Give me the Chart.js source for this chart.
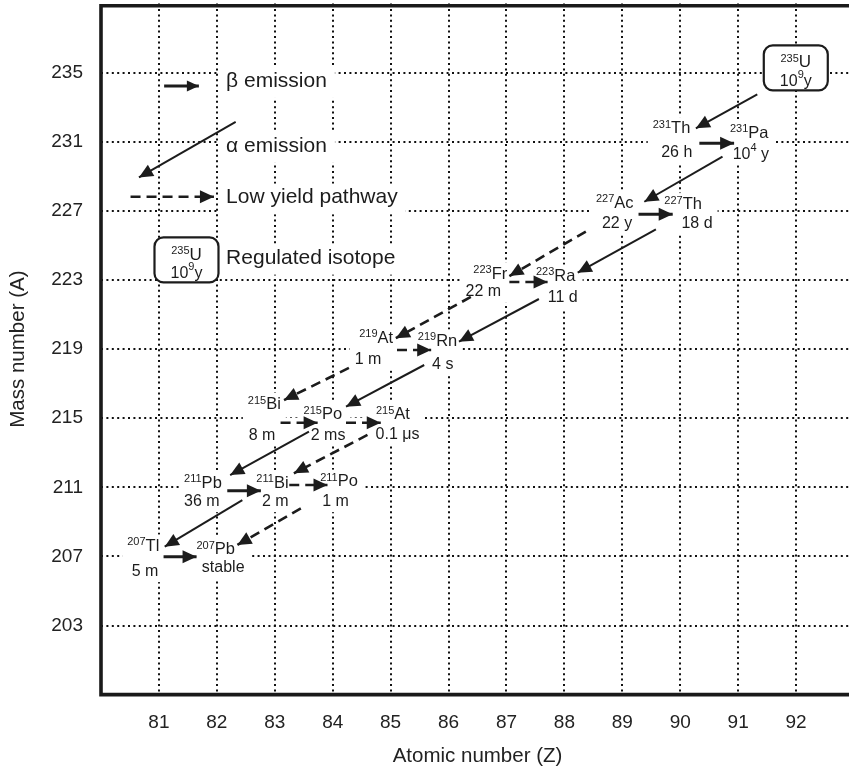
<!DOCTYPE html>
<html>
<head>
<meta charset="utf-8">
<title>235U decay chain</title>
<script src="https://cdn.jsdelivr.net/npm/chart.js@4.4.1/dist/chart.umd.min.js"></script>
<style>
    html, body { margin: 0; padding: 0; background: #fff; overflow: hidden; }
</style>
</head>
<body>
<canvas id="decayChart" width="854" height="773"></canvas>
<script>
// Axis ticks
const zTicks = [81, 82, 83, 84, 85, 86, 87, 88, 89, 90, 91, 92];
const aTicks = [203, 207, 211, 215, 219, 223, 227, 231, 235];

// Isotopes of the chain (label centre in Z / A units)
const isoMass   = ['231', '231', '227', '227', '223', '223', '219', '219', '215', '215', '215', '211', '211', '211', '207', '207'];
const isoSymbol = ['Th', 'Pa', 'Ac', 'Th', 'Fr', 'Ra', 'At', 'Rn', 'Bi', 'Po', 'At', 'Pb', 'Bi', 'Po', 'Tl', 'Pb'];
const isoLabelZ = [89.85, 91.19, 88.87, 90.05, 86.72, 87.85, 84.75, 85.81, 82.82, 83.83, 85.04, 81.76, 82.96, 84.11, 80.73, 81.98];
const isoLabelA = [231.83, 231.58, 227.53, 227.43, 223.41, 223.29, 219.72, 219.53, 215.86, 215.28, 215.28, 211.32, 211.32, 211.42, 207.66, 207.47];
const halfLife  = ['26 h', '10^4 y', '22 y', '18 d', '22 m', '11 d', '1 m', '4 s', '8 m', '2 ms', '0.1 μs', '36 m', '2 m', '1 m', '5 m', 'stable'];
const halfZ     = [89.94, 91.22, 88.91, 90.29, 86.60, 87.97, 84.61, 85.90, 82.78, 83.92, 85.12, 81.74, 83.01, 84.05, 80.76, 82.11];
const halfA     = [230.43, 230.35, 226.37, 226.37, 222.38, 222.03, 218.47, 218.19, 214.09, 214.09, 214.13, 210.26, 210.26, 210.26, 206.21, 206.40];

// Decay arrows: a = alpha, b = beta; dashed = low yield pathway
const arrowKind   = ['a', 'b', 'a', 'b', 'a', 'a', 'b', 'a', 'a', 'b', 'a', 'a', 'b', 'b', 'a', 'a', 'b', 'b', 'a', 'a', 'b'];
const arrowDashed = [false, false, false, false, false, true, true, false, true, true, false, true, true, true, false, true, false, true, false, true, false];
const arrowFromZ  = [91.33, 90.33, 90.73, 89.28, 89.58, 88.37, 87.05, 87.56, 86.385, 85.11, 85.58, 84.28, 83.10, 84.23, 83.59, 84.60, 82.18, 83.25, 82.44, 83.45, 81.08];
const arrowFromA  = [233.75, 230.91, 230.14, 226.80, 225.93, 225.80, 222.88, 221.90, 222.02, 218.95, 218.08, 217.91, 214.74, 214.74, 214.22, 214.03, 210.80, 211.13, 210.26, 209.78, 206.98];
const arrowToZ    = [90.27, 90.93, 89.38, 89.87, 88.23, 87.05, 87.71, 86.18, 85.09, 85.70, 84.23, 83.16, 83.74, 84.83, 82.23, 83.33, 82.76, 83.91, 81.10, 82.355, 81.65];
const arrowToA    = [231.78, 230.91, 227.53, 226.80, 223.42, 223.23, 222.88, 219.43, 219.63, 218.95, 215.67, 216.05, 214.74, 214.74, 211.71, 211.81, 210.80, 211.13, 207.56, 207.66, 206.98];

// Regulated isotope boxes (the legend sample and 235U)
const boxZ = [81.476, 91.995];
const boxA = [224.16, 235.28];

// Legend
const legendText  = ['β emission', 'α emission', 'Low yield pathway', 'Regulated isotope'];
const legendTextZ = 82.16;
const legendTextA = [234.52, 230.77, 227.79, 224.29];
const legendArrowKind   = ['b', 'a', 'a'];
const legendArrowDashed = [false, false, true];
const legendFromZ = [81.09, 82.325, 80.51];
const legendFromA = [234.23, 232.16, 227.82];
const legendToZ   = [81.69, 80.655, 81.95];
const legendToA   = [234.23, 228.94, 227.82];

const FONT = "'Liberation Sans', Arial, Helvetica, sans-serif";
const INK = '#1c1c1c';
const LEGEND_SIZE = 21;

// '10^4 y' -> [['10', false], ['4', true], [' y', false]]
function splitSup(str) {
    const out = [];
    const re = /\^(\d+)/g;
    let last = 0, m;
    while ((m = re.exec(str)) !== null) {
        if (m.index > last) out.push([str.slice(last, m.index), false]);
        out.push([m[1], true]);
        last = re.lastIndex;
    }
    if (last < str.length) out.push([str.slice(last), false]);
    return out;
}

function richWidths(ctx, parts, size, supSize) {
    return parts.map(p => {
        ctx.font = (p[1] ? supSize : size) + 'px ' + FONT;
        return ctx.measureText(p[0]).width;
    });
}

// cy = middle of the capitals of the normal sized text
function drawRich(ctx, parts, cx, cy, size, supSize, supRaise) {
    const base = cy + 0.358 * size;
    const supBase = base - 0.716 * size - supRaise + 0.716 * supSize;
    const widths = richWidths(ctx, parts, size, supSize);
    const total = widths.reduce((s, w) => s + w, 0);
    let x = cx - total / 2;
    ctx.textAlign = 'left';
    ctx.textBaseline = 'alphabetic';
    parts.forEach((p, i) => {
        ctx.font = (p[1] ? supSize : size) + 'px ' + FONT;
        ctx.fillText(p[0], x, p[1] ? supBase : base);
        x += widths[i];
    });
}

function richBox(ctx, parts, cx, cy, size, supSize, supRaise) {
    const total = richWidths(ctx, parts, size, supSize).reduce((s, w) => s + w, 0);
    const hasSup = parts.some(p => p[1]);
    const capTop = cy - 0.358 * size;
    return {
        x0: cx - total / 2,
        x1: cx + total / 2,
        y0: hasSup ? capTop - supRaise : capTop,
        y1: cy + 0.358 * size + 0.21 * size
    };
}

function headPath(ctx, x1, y1, x2, y2, len, half) {
    const ang = Math.atan2(y2 - y1, x2 - x1);
    const c = Math.cos(ang), s = Math.sin(ang);
    ctx.beginPath();
    ctx.moveTo(x2, y2);
    ctx.lineTo(x2 - len * c + half * s, y2 - len * s - half * c);
    ctx.lineTo(x2 - len * c - half * s, y2 - len * s + half * c);
    ctx.closePath();
}

function roundBoxPath(ctx, x, y, w, h, r) {
    ctx.beginPath();
    ctx.moveTo(x + r, y);
    ctx.arcTo(x + w, y, x + w, y + h, r);
    ctx.arcTo(x + w, y + h, x, y + h, r);
    ctx.arcTo(x, y + h, x, y, r);
    ctx.arcTo(x, y, x + w, y, r);
    ctx.closePath();
}

function lineWidthFor(kind, dashed) {
    if (dashed) return 2.6;
    return kind === 'b' ? 3 : 2;
}

// no extra label padding: the plot area is fixed by the frame
function clearPadding(s) {
    s.paddingTop = 0;
    s.paddingBottom = 0;
    s.paddingLeft = 0;
    s.paddingRight = 0;
}

const decayPlugin = {
    id: 'decayExtras',
    // white patches behind labels, boxes, beta arrows and arrow heads (grid is broken there)
    beforeDatasetsDraw(chart) {
        const ctx = chart.ctx;
        const xs = chart.scales.x;
        const ys = chart.scales.y;
        ctx.save();
        ctx.fillStyle = '#fff';
        ctx.strokeStyle = '#fff';

        isoSymbol.forEach((sym, i) => {
            const a = richBox(ctx, [[isoMass[i], true], [sym, false]],
                xs.getPixelForValue(isoLabelZ[i]), ys.getPixelForValue(isoLabelA[i]), 16.5, 11, 1.5);
            const b = richBox(ctx, splitSup(halfLife[i]),
                xs.getPixelForValue(halfZ[i]), ys.getPixelForValue(halfA[i]), 16, 11, 4);
            const x0 = Math.min(a.x0, b.x0) - 5;
            const x1 = Math.max(a.x1, b.x1) + 5;
            const y0 = Math.min(a.y0, b.y0) - 3;
            const y1 = Math.max(a.y1, b.y1) + 3;
            ctx.fillRect(x0, y0, x1 - x0, y1 - y0);
        });

        ctx.font = LEGEND_SIZE + 'px ' + FONT;
        legendText.forEach((t, i) => {
            const w = ctx.measureText(t).width;
            const x = xs.getPixelForValue(legendTextZ);
            const y = ys.getPixelForValue(legendTextA[i]);
            ctx.fillRect(x - 8, y - 0.36 * LEGEND_SIZE - 6, w + 16, 0.93 * LEGEND_SIZE + 11);
        });

        boxZ.forEach((z, i) => {
            const cx = xs.getPixelForValue(z);
            const cy = ys.getPixelForValue(boxA[i]);
            roundBoxPath(ctx, cx - 32, cy - 22.5, 64, 45, 9);
            ctx.fill();
        });

        ctx.lineWidth = 6;
        ctx.lineJoin = 'round';
        chart.data.datasets.forEach((ds, i) => {
            const pts = chart.getDatasetMeta(i).data;
            if (arrowKind[i] === 'b') {
                ctx.fillRect(pts[0].x - 3, pts[0].y - 5, pts[1].x - pts[0].x + 3, 10);
            }
            headPath(ctx, pts[0].x, pts[0].y, pts[1].x, pts[1].y, 14, 6.5);
            ctx.fill();
            ctx.stroke();
        });
        ctx.restore();
    },
    afterDatasetsDraw(chart) {
        const ctx = chart.ctx;
        const xs = chart.scales.x;
        const ys = chart.scales.y;
        const ca = chart.chartArea;
        ctx.save();
        ctx.fillStyle = INK;
        ctx.strokeStyle = INK;

        // arrow heads on the chain
        chart.data.datasets.forEach((ds, i) => {
            const pts = chart.getDatasetMeta(i).data;
            headPath(ctx, pts[0].x, pts[0].y, pts[1].x, pts[1].y, 14, 6.5);
            ctx.fill();
        });

        // isotope labels and half lives
        isoSymbol.forEach((sym, i) => {
            drawRich(ctx, [[isoMass[i], true], [sym, false]],
                xs.getPixelForValue(isoLabelZ[i]), ys.getPixelForValue(isoLabelA[i]), 16.5, 11, 1.5);
            drawRich(ctx, splitSup(halfLife[i]),
                xs.getPixelForValue(halfZ[i]), ys.getPixelForValue(halfA[i]), 16, 11, 4);
        });

        // regulated isotope boxes
        boxZ.forEach((z, i) => {
            const cx = xs.getPixelForValue(z);
            const cy = ys.getPixelForValue(boxA[i]);
            ctx.lineWidth = 2.2;
            ctx.setLineDash([]);
            roundBoxPath(ctx, cx - 32, cy - 22.5, 64, 45, 9);
            ctx.stroke();
            drawRich(ctx, [['235', true], ['U', false]], cx, cy - 6.5, 17, 11, 1.5);
            drawRich(ctx, splitSup('10^9y'), cx, cy + 12, 16, 11, 4);
        });

        // legend arrows and text
        legendArrowKind.forEach((kind, i) => {
            const x1 = xs.getPixelForValue(legendFromZ[i]);
            const y1 = ys.getPixelForValue(legendFromA[i]);
            const x2 = xs.getPixelForValue(legendToZ[i]);
            const y2 = ys.getPixelForValue(legendToA[i]);
            ctx.lineWidth = lineWidthFor(kind, legendArrowDashed[i]);
            ctx.setLineDash(legendArrowDashed[i] ? [10, 6] : []);
            ctx.beginPath();
            ctx.moveTo(x1, y1);
            ctx.lineTo(x2, y2);
            ctx.stroke();
            ctx.setLineDash([]);
            if (kind === 'b') headPath(ctx, x1, y1, x2, y2, 12, 5.5);
            else headPath(ctx, x1, y1, x2, y2, 14, 6.5);
            ctx.fill();
        });
        ctx.font = LEGEND_SIZE + 'px ' + FONT;
        ctx.textAlign = 'left';
        ctx.textBaseline = 'middle';
        legendText.forEach((t, i) => {
            ctx.fillText(t, xs.getPixelForValue(legendTextZ), ys.getPixelForValue(legendTextA[i]));
        });

        // thick frame: top, left, bottom
        ctx.lineWidth = 3.6;
        ctx.lineJoin = 'miter';
        ctx.strokeStyle = '#1a1a1a';
        ctx.beginPath();
        ctx.moveTo(ca.right, ca.top + 2.2);
        ctx.lineTo(ca.left, ca.top + 2.2);
        ctx.lineTo(ca.left, ca.bottom);
        ctx.lineTo(ca.right, ca.bottom);
        ctx.stroke();
        ctx.restore();
    }
};

document.addEventListener('DOMContentLoaded', function () {
    const datasets = arrowKind.map((kind, i) => ({
        data: [
            { x: arrowFromZ[i], y: arrowFromA[i] },
            { x: arrowToZ[i], y: arrowToA[i] }
        ],
        showLine: true,
        borderColor: INK,
        borderWidth: lineWidthFor(kind, arrowDashed[i]),
        borderDash: arrowDashed[i] ? [10, 6] : [],
        pointRadius: 0,
        pointHoverRadius: 0,
        tension: 0
    }));

    new Chart(document.getElementById('decayChart'), {
        type: 'scatter',
        data: { datasets: datasets },
        options: {
            responsive: false,
            animation: false,
            events: [],
            layout: { padding: { top: 3.6, left: 0, right: 0, bottom: 0 } },
            plugins: {
                legend: { display: false },
                tooltip: { enabled: false }
            },
            scales: {
                x: {
                    type: 'linear',
                    min: 80,
                    max: 93,
                    afterBuildTicks: s => { s.ticks = zTicks.map(v => ({ value: v })); },
                    afterFit: s => { s.height = 78.4; clearPadding(s); },
                    grid: { color: '#111', lineWidth: 2, drawTicks: false },
                    border: { display: false, dash: [2, 3.4] },
                    ticks: {
                        color: '#222',
                        font: { family: FONT, size: 19 },
                        padding: 17,
                        maxRotation: 0,
                        autoSkip: false
                    },
                    title: {
                        display: true,
                        text: 'Atomic number (Z)',
                        color: '#222',
                        font: { family: FONT, size: 20.5 },
                        padding: { top: 0, bottom: 4 }
                    }
                },
                y: {
                    type: 'linear',
                    min: 199,
                    max: 239,
                    afterBuildTicks: s => { s.ticks = aTicks.map(v => ({ value: v })); },
                    afterFit: s => { s.width = 101; clearPadding(s); },
                    grid: { color: '#111', lineWidth: 2, drawTicks: false },
                    border: { display: false, dash: [2, 3.4] },
                    ticks: {
                        color: '#222',
                        font: { family: FONT, size: 19 },
                        padding: 18
                    },
                    title: {
                        display: true,
                        text: 'Mass number (A)',
                        color: '#222',
                        font: { family: FONT, size: 20.5 },
                        padding: { top: 6, bottom: 0 }
                    }
                }
            }
        },
        plugins: [decayPlugin]
    });
});
</script>
</body>
</html>
